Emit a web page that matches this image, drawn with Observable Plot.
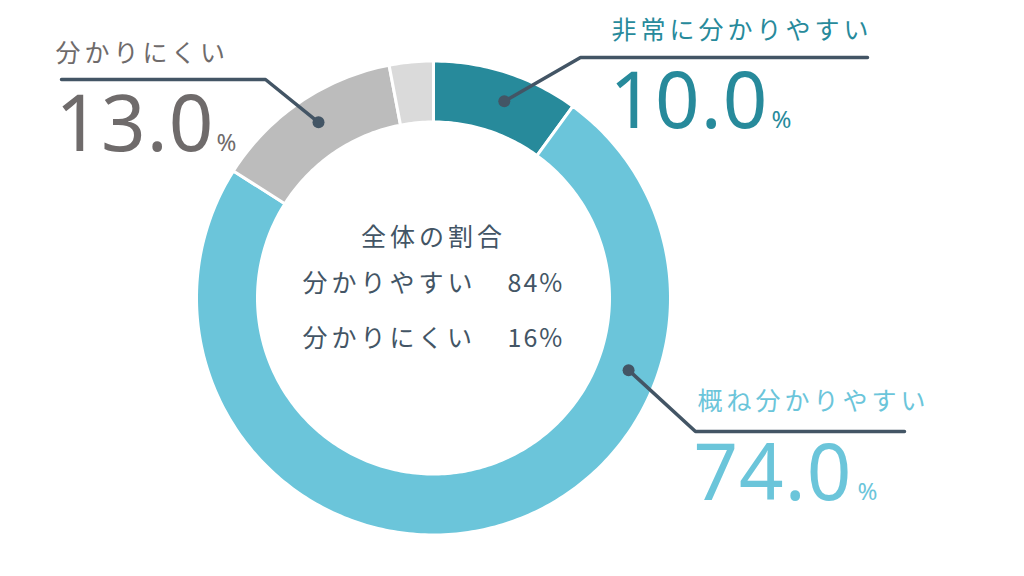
<!DOCTYPE html>
<html><head><meta charset="utf-8">
<script src="https://cdn.jsdelivr.net/npm/d3@7"></script>
<script src="https://cdn.jsdelivr.net/npm/@observablehq/plot@0.6"></script>
<style>body{margin:0;background:#fff;overflow:hidden}</style>
</head><body><div id="chart"></div>
<script>
// ---- data ----
const categories = ["非常に分かりやすい", "概ね分かりやすい", "分かりにくい", "全く分かりにくい"];
const values = [10.0, 74.0, 13.0, 3.0];
const labelled = [true, true, true, false];
const summaryTitle = "全体の割合";
const summaryLabels = ["分かりやすい", "分かりにくい"];
const summaryValues = [84, 16];

// ---- styles / layout ----
const colors = ["#278a9b", "#6bc5da", "#bcbcbc", "#dadada"];
const textColors = ["#278a9b", "#6bc5da", "#6f6b6b"];
const lineColor = "#435565";
const W = 1024, H = 576;
const cx = 433, cy = 297.5, R = 237, r = 176;
// per-label layout: anchor angle (deg from top, clockwise), elbow, end, text positions
const layout = [
  {ang: 19.8, rad: 209, elbow: [580, 57], end: [867, 57], lx: 611, ly: 38, nx: 609, ny: 127, px: 771},
  {ang: 110.3, rad: 208, elbow: [695, 431], end: [904, 431], lx: 697, ly: 409, nx: 693, ny: 499, px: 857},
  {ang: 326.8, rad: 210, elbow: [265, 79], end: [61, 79], lx: 55, ly: 61, nx: 55, ny: 150, px: 216}
];

// ---- derive slices ----
const pie = d3.pie().sort(null).value(d => d.value);
const slices = pie(categories.map((c, i) => ({cat: c, value: values[i], color: colors[i]})));
const polys = [];
slices.forEach((s, i) => {
  const n = Math.max(4, Math.ceil((s.endAngle - s.startAngle) * 60));
  const pts = [];
  for (let k = 0; k <= n; k++) {
    const a = s.startAngle + (s.endAngle - s.startAngle) * k / n;
    pts.push({x: cx + R * Math.sin(a), y: cy - R * Math.cos(a)});
  }
  for (let k = n; k >= 0; k--) {
    const a = s.startAngle + (s.endAngle - s.startAngle) * k / n;
    pts.push({x: cx + r * Math.sin(a), y: cy - r * Math.cos(a)});
  }
  pts.push(pts[0]);
  pts.forEach(p => polys.push({...p, cat: s.data.cat, color: s.data.color}));
});

const leaders = [], dots = [], labels = [], nums = [], pcts = [];
let li = 0;
categories.forEach((c, i) => {
  if (!labelled[i]) return;
  const L = layout[li];
  const a = L.ang * Math.PI / 180;
  const d = {x: cx + L.rad * Math.sin(a), y: cy - L.rad * Math.cos(a)};
  dots.push(d);
  leaders.push({...d, cat: c}, {x: L.elbow[0], y: L.elbow[1], cat: c}, {x: L.end[0], y: L.end[1], cat: c});
  labels.push({x: L.lx, y: L.ly, text: c, color: textColors[li]});
  nums.push({x: L.nx, y: L.ny, text: values[i].toFixed(1), color: textColors[li]});
  pcts.push({x: L.px, y: L.ny, text: "%", color: textColors[li]});
  li++;
});

const centerTitle = [{x: cx, y: 245, text: summaryTitle}];
const centerRows = [
  ...summaryLabels.map((t, i) => ({x: 302, y: 291 + 55 * i, text: t})),
  ...summaryValues.map((v, i) => ({x: 507, y: 291 + 55 * i, text: v + "%"}))
];

const jp = "'Noto Sans CJK JP', 'Noto Sans', sans-serif";
const num = "'Noto Sans', 'Open Sans', sans-serif";

const chart = Plot.plot({
  width: W, height: H,
  margin: 0,
  x: {domain: [0, W], range: [0, W], axis: null},
  y: {domain: [0, H], range: [0, H], axis: null},
  style: {background: "#fff"},
  marks: [
    Plot.line(polys, {x: "x", y: "y", z: "cat", fill: "color", stroke: "#fff", strokeWidth: 3, curve: "linear"}),
    Plot.line(leaders, {x: "x", y: "y", z: "cat", stroke: lineColor, strokeWidth: 3.5, strokeLinecap: "round", strokeLinejoin: "miter"}),
    Plot.dot(dots, {x: "x", y: "y", r: 6, fill: lineColor}),
    Plot.text(labels, {x: "x", y: "y", text: "text", fill: "color", fontSize: 25, fontFamily: jp, textAnchor: "start", lineAnchor: "bottom"}),
    Plot.text(nums, {x: "x", y: "y", text: "text", fill: "color", fontSize: 78, fontFamily: num, textAnchor: "start", lineAnchor: "bottom"}),
    Plot.text(pcts, {x: "x", y: "y", text: "text", fill: "color", fontSize: 24, fontFamily: num, textAnchor: "start", lineAnchor: "bottom"}),
    Plot.text(centerTitle, {x: "x", y: "y", text: "text", fill: lineColor, fontSize: 25, fontFamily: jp, textAnchor: "middle", lineAnchor: "bottom"}),
    Plot.text(centerRows, {x: "x", y: "y", text: "text", fill: lineColor, fontSize: 25, fontFamily: jp, textAnchor: "start", lineAnchor: "bottom"})
  ]
});
d3.select(chart).selectAll("text")
  .filter(function () { return /[\u3040-\u9fff]/.test(this.textContent); })
  .attr("letter-spacing", "4px");
d3.select(chart).selectAll("text")
  .filter(function () { return /^\d+%$/.test(this.textContent); })
  .attr("letter-spacing", "2px");
d3.select(chart).selectAll("text")
  .filter(function () { return /^\d+\.\d$/.test(this.textContent); })
  .attr("letter-spacing", "1px");
document.getElementById("chart").appendChild(chart);
</script>
</body></html>
